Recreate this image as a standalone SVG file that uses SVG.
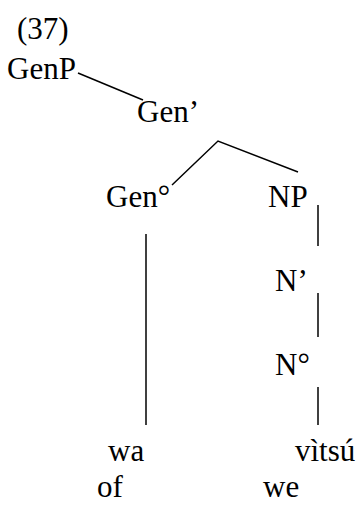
<svg xmlns="http://www.w3.org/2000/svg" width="364" height="505" viewBox="0 0 364 505">
<rect width="364" height="505" fill="#fff"/>
<g id="connectors" stroke="#000" stroke-width="1.5" fill="none">
<line x1="78" y1="73" x2="143" y2="100"/>
<polyline points="172,185 218,141 298,172"/>
<line x1="318" y1="205" x2="318" y2="246"/>
<line x1="318" y1="293" x2="318" y2="337"/>
<line x1="318" y1="387" x2="318" y2="425"/>
<line x1="146" y1="234" x2="146" y2="425"/>
</g>
<text x="17" y="39" font-family="Liberation Serif" font-size="31">(37)</text>
<g id="GenP"><text x="7" y="79" font-family="Liberation Serif" font-size="31">GenP</text></g>
<g id="GenBar"><text x="137" y="122" font-family="Liberation Serif" font-size="31">Gen’</text></g>
<g id="Gen0"><text x="106" y="207" font-family="Liberation Serif" font-size="31">Gen°</text></g>
<g id="NP"><text x="268" y="207" font-family="Liberation Serif" font-size="31">NP</text></g>
<g id="NBar"><text x="275" y="291" font-family="Liberation Serif" font-size="31">N’</text></g>
<g id="N0"><text x="275" y="375" font-family="Liberation Serif" font-size="31">N°</text></g>
<g id="wa"><text x="108" y="461" font-family="Liberation Serif" font-size="31">wa</text><text x="97" y="497" font-family="Liberation Serif" font-size="31">of</text></g>
<g id="vitsu"><text x="295" y="461" font-family="Liberation Serif" font-size="31">vìtsú</text><text x="263" y="497" font-family="Liberation Serif" font-size="31">we</text></g>
</svg>
